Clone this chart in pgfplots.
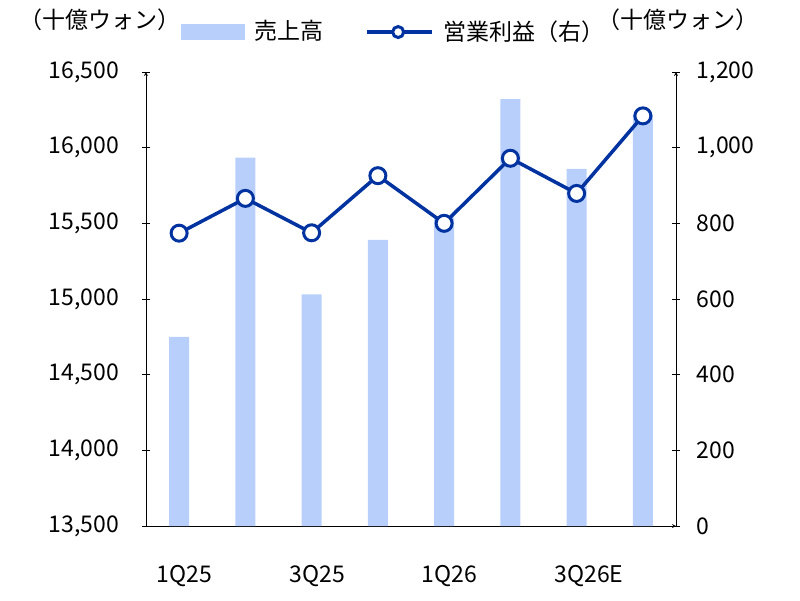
\documentclass[border=0pt]{standalone}
\usepackage{pgfplots}
\pgfplotsset{compat=1.18}
\usepackage{fontspec}
\setmainfont{Noto Sans CJK JP}
\definecolor{barblue}{HTML}{B8CFFC}
\definecolor{lineblue}{HTML}{0033A0}
\begin{document}
\fontsize{23pt}{26pt}\selectfont
\begin{tikzpicture}[x=1pt,y=1pt]
\useasboundingbox (-146,-74) rectangle (654,526);
\pgfplotsset{
  base/.style={
    scale only axis, width=530pt, height=454pt,
    at={(0,0)}, anchor=south west,
    xmin=-0.5, xmax=7.5,
    axis line style={-, black, line width=0.8pt},
    tick style={black, line width=0.8pt},
    tick align=outside,
    major tick length=8pt, minor tick length=8pt,
    scaled y ticks=false,
    /pgf/number format/fixed,
    /pgf/number format/1000 sep={,},
    /pgf/number format/assume math mode=true,
    clip=false,
  }
}
\begin{axis}[base,
  axis x line=bottom, axis y line=left,
  ymin=13500, ymax=16500,
  ytick={13500,14000,...,16500},
  xtick={0,...,7},
  xticklabels={1Q25,,3Q25,,1Q26,,3Q26E,},
  minor xtick={-0.5,0.5,...,7.5},
  xtick style={draw=none},
  minor x tick style={black, line width=0.8pt},
  xticklabel style={anchor=north west, xshift=-30pt, yshift=-27pt},
  yticklabel style={xshift=-15pt},
]
\addplot[ybar, bar width=20pt, fill=barblue, draw=none] coordinates {
(0,14750) (1,15935) (2,15030) (3,15390) (4,15540) (5,16320) (6,15860) (7,16220)};
\end{axis}
\begin{axis}[base,
  axis x line=none, axis y line=right,
  ymin=0, ymax=1200,
  ytick={0,200,...,1200},
  yticklabel style={xshift=9pt},
  legend style={at={(0.06,1.088)}, anchor=west, draw=none, fill=none,
    legend columns=2, font=\fontsize{23pt}{26pt}\selectfont,
    /tikz/every odd column/.append style={column sep=0pt},
    /tikz/every even column/.append style={column sep=40pt}},
]
\addlegendimage{legend image code/.code={\fill[barblue] (0pt,-7.5pt) rectangle (63pt,7.5pt);}}
\addlegendentry{\hspace*{8pt}売上高}
\addplot[lineblue, line width=3.5pt, mark=*, mark size=8pt,
  mark options={fill=white, draw=lineblue, line width=3pt},
  legend image code/.code={\draw[lineblue, line width=3.5pt] (0pt,0pt)--(65pt,0pt);
    \draw[lineblue, line width=3pt, fill=white] (31pt,0pt) circle (5.5pt);}]
coordinates {(0,774) (1,866) (2,775) (3,926) (4,800) (5,972) (6,879) (7,1084)};
\addlegendentry{\hspace*{8pt}営業利益（右）}
\end{axis}
\node at (-46,506) {（十億ウォン）};
\node at (532,506) {（十億ウォン）};
\end{tikzpicture}
\end{document}
